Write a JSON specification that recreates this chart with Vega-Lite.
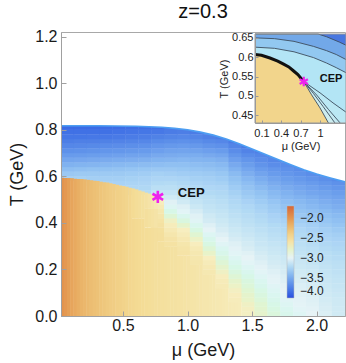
{
"$schema": "https://vega.github.io/schema/vega-lite/v6.json",
"width": 284, "height": 284,
"autosize": {"type": "none"},
"padding": {"left": 61, "top": 32, "right": 1, "bottom": 47},
"background": "white",
"config": {"font": "Liberation Sans", "view": {"stroke": "#a8a8a8", "strokeWidth": 1}},
"title": {"text": "z=0.3", "fontSize": 20, "fontWeight": "normal", "color": "#111", "offset": 7, "frame": "group", "anchor": "middle"},
"datasets": {
"cells": [
{"m":0.07,"t":0.59,"v":-3.27},{"m":0.07,"t":0.61,"v":-3.32},{"m":0.07,"t":0.63,"v":-3.38},{"m":0.07,"t":0.65,"v":-3.45},{"m":0.07,"t":0.67,"v":-3.52},{"m":0.07,"t":0.69,"v":-3.59},{"m":0.07,"t":0.71,"v":-3.65},{"m":0.07,"t":0.73,"v":-3.71},{"m":0.07,"t":0.75,"v":-3.76},{"m":0.07,"t":0.77,"v":-3.8},{"m":0.07,"t":0.79,"v":-3.83},{"m":0.07,"t":0.81,"v":-3.86},
{"m":0.17,"t":0.59,"v":-3.27},{"m":0.17,"t":0.61,"v":-3.31},{"m":0.17,"t":0.63,"v":-3.37},{"m":0.17,"t":0.65,"v":-3.44},{"m":0.17,"t":0.67,"v":-3.51},{"m":0.17,"t":0.69,"v":-3.58},{"m":0.17,"t":0.71,"v":-3.64},{"m":0.17,"t":0.73,"v":-3.7},{"m":0.17,"t":0.75,"v":-3.75},{"m":0.17,"t":0.77,"v":-3.8},{"m":0.17,"t":0.79,"v":-3.83},{"m":0.17,"t":0.81,"v":-3.86},
{"m":0.27,"t":0.57,"v":-3.26},{"m":0.27,"t":0.59,"v":-3.28},{"m":0.27,"t":0.61,"v":-3.31},{"m":0.27,"t":0.63,"v":-3.36},{"m":0.27,"t":0.65,"v":-3.43},{"m":0.27,"t":0.67,"v":-3.5},{"m":0.27,"t":0.69,"v":-3.57},{"m":0.27,"t":0.71,"v":-3.63},{"m":0.27,"t":0.73,"v":-3.69},{"m":0.27,"t":0.75,"v":-3.75},{"m":0.27,"t":0.77,"v":-3.79},{"m":0.27,"t":0.79,"v":-3.83},{"m":0.27,"t":0.81,"v":-3.86},
{"m":0.37,"t":0.57,"v":-3.26},{"m":0.37,"t":0.59,"v":-3.28},{"m":0.37,"t":0.61,"v":-3.31},{"m":0.37,"t":0.63,"v":-3.36},{"m":0.37,"t":0.65,"v":-3.42},{"m":0.37,"t":0.67,"v":-3.49},{"m":0.37,"t":0.69,"v":-3.56},{"m":0.37,"t":0.71,"v":-3.62},{"m":0.37,"t":0.73,"v":-3.68},{"m":0.37,"t":0.75,"v":-3.74},{"m":0.37,"t":0.77,"v":-3.79},{"m":0.37,"t":0.79,"v":-3.83},{"m":0.37,"t":0.81,"v":-3.85},
{"m":0.47,"t":0.55,"v":-3.24},{"m":0.47,"t":0.57,"v":-3.26},{"m":0.47,"t":0.59,"v":-3.28},{"m":0.47,"t":0.61,"v":-3.31},{"m":0.47,"t":0.63,"v":-3.35},{"m":0.47,"t":0.65,"v":-3.41},{"m":0.47,"t":0.67,"v":-3.48},{"m":0.47,"t":0.69,"v":-3.55},{"m":0.47,"t":0.71,"v":-3.61},{"m":0.47,"t":0.73,"v":-3.67},{"m":0.47,"t":0.75,"v":-3.73},{"m":0.47,"t":0.77,"v":-3.78},{"m":0.47,"t":0.79,"v":-3.82},{"m":0.47,"t":0.81,"v":-3.85},
{"m":0.57,"t":0.53,"v":-3.22},{"m":0.57,"t":0.55,"v":-3.23},{"m":0.57,"t":0.57,"v":-3.25},{"m":0.57,"t":0.59,"v":-3.27},{"m":0.57,"t":0.61,"v":-3.3},{"m":0.57,"t":0.63,"v":-3.34},{"m":0.57,"t":0.65,"v":-3.4},{"m":0.57,"t":0.67,"v":-3.47},{"m":0.57,"t":0.69,"v":-3.54},{"m":0.57,"t":0.71,"v":-3.6},{"m":0.57,"t":0.73,"v":-3.66},{"m":0.57,"t":0.75,"v":-3.72},{"m":0.57,"t":0.77,"v":-3.77},{"m":0.57,"t":0.79,"v":-3.81},{"m":0.57,"t":0.81,"v":-3.84},
{"m":0.67,"t":0.53,"v":-3.2},{"m":0.67,"t":0.55,"v":-3.22},{"m":0.67,"t":0.57,"v":-3.24},{"m":0.67,"t":0.59,"v":-3.26},{"m":0.67,"t":0.61,"v":-3.29},{"m":0.67,"t":0.63,"v":-3.33},{"m":0.67,"t":0.65,"v":-3.39},{"m":0.67,"t":0.67,"v":-3.46},{"m":0.67,"t":0.69,"v":-3.53},{"m":0.67,"t":0.71,"v":-3.59},{"m":0.67,"t":0.73,"v":-3.65},{"m":0.67,"t":0.75,"v":-3.71},{"m":0.67,"t":0.77,"v":-3.76},{"m":0.67,"t":0.79,"v":-3.8},{"m":0.67,"t":0.81,"v":-3.84},
{"m":0.77,"t":0.33,"v":-2.54},{"m":0.77,"t":0.35,"v":-2.54},{"m":0.77,"t":0.37,"v":-2.55},{"m":0.77,"t":0.39,"v":-2.57},{"m":0.77,"t":0.41,"v":-2.59},{"m":0.77,"t":0.43,"v":-2.62},{"m":0.77,"t":0.45,"v":-2.65},{"m":0.77,"t":0.47,"v":-2.69},{"m":0.77,"t":0.49,"v":-2.74},{"m":0.77,"t":0.51,"v":-2.88},{"m":0.77,"t":0.53,"v":-3.12},{"m":0.77,"t":0.55,"v":-3.17},{"m":0.77,"t":0.57,"v":-3.21},{"m":0.77,"t":0.59,"v":-3.24},{"m":0.77,"t":0.61,"v":-3.27},{"m":0.77,"t":0.63,"v":-3.32},{"m":0.77,"t":0.65,"v":-3.38},{"m":0.77,"t":0.67,"v":-3.44},{"m":0.77,"t":0.69,"v":-3.5},{"m":0.77,"t":0.71,"v":-3.56},{"m":0.77,"t":0.73,"v":-3.62},{"m":0.77,"t":0.75,"v":-3.68},{"m":0.77,"t":0.77,"v":-3.74},{"m":0.77,"t":0.79,"v":-3.79},{"m":0.77,"t":0.81,"v":-3.83},
{"m":0.87,"t":0.31,"v":-2.58},{"m":0.87,"t":0.33,"v":-2.6},{"m":0.87,"t":0.35,"v":-2.64},{"m":0.87,"t":0.37,"v":-2.68},{"m":0.87,"t":0.39,"v":-2.72},{"m":0.87,"t":0.41,"v":-2.77},{"m":0.87,"t":0.43,"v":-2.83},{"m":0.87,"t":0.45,"v":-2.89},{"m":0.87,"t":0.47,"v":-2.95},{"m":0.87,"t":0.49,"v":-3.02},{"m":0.87,"t":0.51,"v":-3.08},{"m":0.87,"t":0.53,"v":-3.13},{"m":0.87,"t":0.55,"v":-3.17},{"m":0.87,"t":0.57,"v":-3.2},{"m":0.87,"t":0.59,"v":-3.24},{"m":0.87,"t":0.61,"v":-3.28},{"m":0.87,"t":0.63,"v":-3.32},{"m":0.87,"t":0.65,"v":-3.37},{"m":0.87,"t":0.67,"v":-3.43},{"m":0.87,"t":0.69,"v":-3.49},{"m":0.87,"t":0.71,"v":-3.54},{"m":0.87,"t":0.73,"v":-3.6},{"m":0.87,"t":0.75,"v":-3.66},{"m":0.87,"t":0.77,"v":-3.72},{"m":0.87,"t":0.79,"v":-3.77},{"m":0.87,"t":0.81,"v":-3.81},
{"m":0.97,"t":0.27,"v":-2.6},{"m":0.97,"t":0.29,"v":-2.61},{"m":0.97,"t":0.31,"v":-2.63},{"m":0.97,"t":0.33,"v":-2.67},{"m":0.97,"t":0.35,"v":-2.71},{"m":0.97,"t":0.37,"v":-2.75},{"m":0.97,"t":0.39,"v":-2.8},{"m":0.97,"t":0.41,"v":-2.86},{"m":0.97,"t":0.43,"v":-2.92},{"m":0.97,"t":0.45,"v":-2.98},{"m":0.97,"t":0.47,"v":-3.03},{"m":0.97,"t":0.49,"v":-3.08},{"m":0.97,"t":0.51,"v":-3.12},{"m":0.97,"t":0.53,"v":-3.16},{"m":0.97,"t":0.55,"v":-3.19},{"m":0.97,"t":0.57,"v":-3.22},{"m":0.97,"t":0.59,"v":-3.25},{"m":0.97,"t":0.61,"v":-3.29},{"m":0.97,"t":0.63,"v":-3.33},{"m":0.97,"t":0.65,"v":-3.37},{"m":0.97,"t":0.67,"v":-3.42},{"m":0.97,"t":0.69,"v":-3.48},{"m":0.97,"t":0.71,"v":-3.53},{"m":0.97,"t":0.73,"v":-3.59},{"m":0.97,"t":0.75,"v":-3.65},{"m":0.97,"t":0.77,"v":-3.71},{"m":0.97,"t":0.79,"v":-3.76},{"m":0.97,"t":0.81,"v":-3.81},
{"m":1.07,"t":0.23,"v":-2.63},{"m":1.07,"t":0.25,"v":-2.645},{"m":1.07,"t":0.27,"v":-2.66},{"m":1.07,"t":0.29,"v":-2.69},{"m":1.07,"t":0.31,"v":-2.74},{"m":1.07,"t":0.33,"v":-2.78},{"m":1.07,"t":0.35,"v":-2.82},{"m":1.07,"t":0.37,"v":-2.87},{"m":1.07,"t":0.39,"v":-2.92},{"m":1.07,"t":0.41,"v":-2.97},{"m":1.07,"t":0.43,"v":-3.02},{"m":1.07,"t":0.45,"v":-3.06},{"m":1.07,"t":0.47,"v":-3.1},{"m":1.07,"t":0.49,"v":-3.13},{"m":1.07,"t":0.51,"v":-3.16},{"m":1.07,"t":0.53,"v":-3.18},{"m":1.07,"t":0.55,"v":-3.21},{"m":1.07,"t":0.57,"v":-3.24},{"m":1.07,"t":0.59,"v":-3.27},{"m":1.07,"t":0.61,"v":-3.3},{"m":1.07,"t":0.63,"v":-3.34},{"m":1.07,"t":0.65,"v":-3.38},{"m":1.07,"t":0.67,"v":-3.43},{"m":1.07,"t":0.69,"v":-3.48},{"m":1.07,"t":0.71,"v":-3.54},{"m":1.07,"t":0.73,"v":-3.6},{"m":1.07,"t":0.75,"v":-3.66},{"m":1.07,"t":0.77,"v":-3.72},{"m":1.07,"t":0.79,"v":-3.77},
{"m":1.17,"t":0.19,"v":-2.66},{"m":1.17,"t":0.21,"v":-2.68},{"m":1.17,"t":0.23,"v":-2.71},{"m":1.17,"t":0.25,"v":-2.75},{"m":1.17,"t":0.27,"v":-2.79},{"m":1.17,"t":0.29,"v":-2.83},{"m":1.17,"t":0.31,"v":-2.87},{"m":1.17,"t":0.33,"v":-2.91},{"m":1.17,"t":0.35,"v":-2.95},{"m":1.17,"t":0.37,"v":-3.0},{"m":1.17,"t":0.39,"v":-3.03},{"m":1.17,"t":0.41,"v":-3.07},{"m":1.17,"t":0.43,"v":-3.09},{"m":1.17,"t":0.45,"v":-3.12},{"m":1.17,"t":0.47,"v":-3.14},{"m":1.17,"t":0.49,"v":-3.16},{"m":1.17,"t":0.51,"v":-3.18},{"m":1.17,"t":0.53,"v":-3.21},{"m":1.17,"t":0.55,"v":-3.23},{"m":1.17,"t":0.57,"v":-3.26},{"m":1.17,"t":0.59,"v":-3.28},{"m":1.17,"t":0.61,"v":-3.31},{"m":1.17,"t":0.63,"v":-3.35},{"m":1.17,"t":0.65,"v":-3.39},{"m":1.17,"t":0.67,"v":-3.44},{"m":1.17,"t":0.69,"v":-3.5},{"m":1.17,"t":0.71,"v":-3.56},{"m":1.17,"t":0.73,"v":-3.63},{"m":1.17,"t":0.75,"v":-3.69},{"m":1.17,"t":0.77,"v":-3.75},{"m":1.17,"t":0.79,"v":-3.79},
{"m":1.27,"t":0.13,"v":-2.69},{"m":1.27,"t":0.15,"v":-2.71},{"m":1.27,"t":0.17,"v":-2.74},{"m":1.27,"t":0.19,"v":-2.77},{"m":1.27,"t":0.21,"v":-2.8},{"m":1.27,"t":0.23,"v":-2.83},{"m":1.27,"t":0.25,"v":-2.86},{"m":1.27,"t":0.27,"v":-2.9},{"m":1.27,"t":0.29,"v":-2.93},{"m":1.27,"t":0.31,"v":-2.97},{"m":1.27,"t":0.33,"v":-3.0},{"m":1.27,"t":0.35,"v":-3.03},{"m":1.27,"t":0.37,"v":-3.06},{"m":1.27,"t":0.39,"v":-3.08},{"m":1.27,"t":0.41,"v":-3.1},{"m":1.27,"t":0.43,"v":-3.12},{"m":1.27,"t":0.45,"v":-3.14},{"m":1.27,"t":0.47,"v":-3.16},{"m":1.27,"t":0.49,"v":-3.18},{"m":1.27,"t":0.51,"v":-3.2},{"m":1.27,"t":0.53,"v":-3.22},{"m":1.27,"t":0.55,"v":-3.24},{"m":1.27,"t":0.57,"v":-3.27},{"m":1.27,"t":0.59,"v":-3.3},{"m":1.27,"t":0.61,"v":-3.33},{"m":1.27,"t":0.63,"v":-3.37},{"m":1.27,"t":0.65,"v":-3.41},{"m":1.27,"t":0.67,"v":-3.46},{"m":1.27,"t":0.69,"v":-3.52},{"m":1.27,"t":0.71,"v":-3.58},{"m":1.27,"t":0.73,"v":-3.65},{"m":1.27,"t":0.75,"v":-3.71},{"m":1.27,"t":0.77,"v":-3.77},
{"m":1.37,"t":0.07,"v":-2.72},{"m":1.37,"t":0.09,"v":-2.74},{"m":1.37,"t":0.11,"v":-2.76},{"m":1.37,"t":0.13,"v":-2.78},{"m":1.37,"t":0.15,"v":-2.8},{"m":1.37,"t":0.17,"v":-2.83},{"m":1.37,"t":0.19,"v":-2.86},{"m":1.37,"t":0.21,"v":-2.89},{"m":1.37,"t":0.23,"v":-2.92},{"m":1.37,"t":0.25,"v":-2.95},{"m":1.37,"t":0.27,"v":-2.98},{"m":1.37,"t":0.29,"v":-3.01},{"m":1.37,"t":0.31,"v":-3.03},{"m":1.37,"t":0.33,"v":-3.06},{"m":1.37,"t":0.35,"v":-3.08},{"m":1.37,"t":0.37,"v":-3.1},{"m":1.37,"t":0.39,"v":-3.12},{"m":1.37,"t":0.41,"v":-3.14},{"m":1.37,"t":0.43,"v":-3.16},{"m":1.37,"t":0.45,"v":-3.18},{"m":1.37,"t":0.47,"v":-3.2},{"m":1.37,"t":0.49,"v":-3.22},{"m":1.37,"t":0.51,"v":-3.24},{"m":1.37,"t":0.53,"v":-3.27},{"m":1.37,"t":0.55,"v":-3.3},{"m":1.37,"t":0.57,"v":-3.33},{"m":1.37,"t":0.59,"v":-3.36},{"m":1.37,"t":0.61,"v":-3.4},{"m":1.37,"t":0.63,"v":-3.45},{"m":1.37,"t":0.65,"v":-3.5},{"m":1.37,"t":0.67,"v":-3.56},{"m":1.37,"t":0.69,"v":-3.62},{"m":1.37,"t":0.71,"v":-3.67},{"m":1.37,"t":0.73,"v":-3.72},{"m":1.37,"t":0.75,"v":-3.77},
{"m":1.47,"t":0.01,"v":-2.76},{"m":1.47,"t":0.03,"v":-2.76},{"m":1.47,"t":0.05,"v":-2.77},{"m":1.47,"t":0.07,"v":-2.79},{"m":1.47,"t":0.09,"v":-2.8},{"m":1.47,"t":0.11,"v":-2.82},{"m":1.47,"t":0.13,"v":-2.84},{"m":1.47,"t":0.15,"v":-2.86},{"m":1.47,"t":0.17,"v":-2.89},{"m":1.47,"t":0.19,"v":-2.92},{"m":1.47,"t":0.21,"v":-2.95},{"m":1.47,"t":0.23,"v":-2.98},{"m":1.47,"t":0.25,"v":-3.0},{"m":1.47,"t":0.27,"v":-3.02},{"m":1.47,"t":0.29,"v":-3.05},{"m":1.47,"t":0.31,"v":-3.07},{"m":1.47,"t":0.33,"v":-3.09},{"m":1.47,"t":0.35,"v":-3.11},{"m":1.47,"t":0.37,"v":-3.13},{"m":1.47,"t":0.39,"v":-3.15},{"m":1.47,"t":0.41,"v":-3.17},{"m":1.47,"t":0.43,"v":-3.19},{"m":1.47,"t":0.45,"v":-3.21},{"m":1.47,"t":0.47,"v":-3.23},{"m":1.47,"t":0.49,"v":-3.26},{"m":1.47,"t":0.51,"v":-3.29},{"m":1.47,"t":0.53,"v":-3.32},{"m":1.47,"t":0.55,"v":-3.35},{"m":1.47,"t":0.57,"v":-3.38},{"m":1.47,"t":0.59,"v":-3.42},{"m":1.47,"t":0.61,"v":-3.47},{"m":1.47,"t":0.63,"v":-3.52},{"m":1.47,"t":0.65,"v":-3.57},{"m":1.47,"t":0.67,"v":-3.62},{"m":1.47,"t":0.69,"v":-3.68},{"m":1.47,"t":0.71,"v":-3.73},{"m":1.47,"t":0.73,"v":-3.78},
{"m":1.57,"t":0.01,"v":-2.8},{"m":1.57,"t":0.03,"v":-2.81},{"m":1.57,"t":0.05,"v":-2.82},{"m":1.57,"t":0.07,"v":-2.84},{"m":1.57,"t":0.09,"v":-2.86},{"m":1.57,"t":0.11,"v":-2.88},{"m":1.57,"t":0.13,"v":-2.91},{"m":1.57,"t":0.15,"v":-2.93},{"m":1.57,"t":0.17,"v":-2.96},{"m":1.57,"t":0.19,"v":-2.98},{"m":1.57,"t":0.21,"v":-3.01},{"m":1.57,"t":0.23,"v":-3.03},{"m":1.57,"t":0.25,"v":-3.05},{"m":1.57,"t":0.27,"v":-3.07},{"m":1.57,"t":0.29,"v":-3.09},{"m":1.57,"t":0.31,"v":-3.11},{"m":1.57,"t":0.33,"v":-3.12},{"m":1.57,"t":0.35,"v":-3.14},{"m":1.57,"t":0.37,"v":-3.16},{"m":1.57,"t":0.39,"v":-3.18},{"m":1.57,"t":0.41,"v":-3.2},{"m":1.57,"t":0.43,"v":-3.22},{"m":1.57,"t":0.45,"v":-3.25},{"m":1.57,"t":0.47,"v":-3.27},{"m":1.57,"t":0.49,"v":-3.3},{"m":1.57,"t":0.51,"v":-3.33},{"m":1.57,"t":0.53,"v":-3.36},{"m":1.57,"t":0.55,"v":-3.4},{"m":1.57,"t":0.57,"v":-3.44},{"m":1.57,"t":0.59,"v":-3.48},{"m":1.57,"t":0.61,"v":-3.53},{"m":1.57,"t":0.63,"v":-3.58},{"m":1.57,"t":0.65,"v":-3.63},{"m":1.57,"t":0.67,"v":-3.67},{"m":1.57,"t":0.69,"v":-3.71},{"m":1.57,"t":0.71,"v":-3.75},
{"m":1.67,"t":0.01,"v":-2.85},{"m":1.67,"t":0.03,"v":-2.87},{"m":1.67,"t":0.05,"v":-2.89},{"m":1.67,"t":0.07,"v":-2.91},{"m":1.67,"t":0.09,"v":-2.93},{"m":1.67,"t":0.11,"v":-2.95},{"m":1.67,"t":0.13,"v":-2.97},{"m":1.67,"t":0.15,"v":-2.99},{"m":1.67,"t":0.17,"v":-3.01},{"m":1.67,"t":0.19,"v":-3.03},{"m":1.67,"t":0.21,"v":-3.05},{"m":1.67,"t":0.23,"v":-3.07},{"m":1.67,"t":0.25,"v":-3.08},{"m":1.67,"t":0.27,"v":-3.1},{"m":1.67,"t":0.29,"v":-3.11},{"m":1.67,"t":0.31,"v":-3.13},{"m":1.67,"t":0.33,"v":-3.15},{"m":1.67,"t":0.35,"v":-3.17},{"m":1.67,"t":0.37,"v":-3.19},{"m":1.67,"t":0.39,"v":-3.21},{"m":1.67,"t":0.41,"v":-3.24},{"m":1.67,"t":0.43,"v":-3.26},{"m":1.67,"t":0.45,"v":-3.29},{"m":1.67,"t":0.47,"v":-3.31},{"m":1.67,"t":0.49,"v":-3.34},{"m":1.67,"t":0.51,"v":-3.38},{"m":1.67,"t":0.53,"v":-3.41},{"m":1.67,"t":0.55,"v":-3.45},{"m":1.67,"t":0.57,"v":-3.49},{"m":1.67,"t":0.59,"v":-3.53},{"m":1.67,"t":0.61,"v":-3.58},{"m":1.67,"t":0.63,"v":-3.62},{"m":1.67,"t":0.65,"v":-3.67},{"m":1.67,"t":0.67,"v":-3.71},{"m":1.67,"t":0.69,"v":-3.75},
{"m":1.77,"t":0.01,"v":-2.91},{"m":1.77,"t":0.03,"v":-2.93},{"m":1.77,"t":0.05,"v":-2.95},{"m":1.77,"t":0.07,"v":-2.97},{"m":1.77,"t":0.09,"v":-2.98},{"m":1.77,"t":0.11,"v":-3.0},{"m":1.77,"t":0.13,"v":-3.01},{"m":1.77,"t":0.15,"v":-3.03},{"m":1.77,"t":0.17,"v":-3.04},{"m":1.77,"t":0.19,"v":-3.06},{"m":1.77,"t":0.21,"v":-3.07},{"m":1.77,"t":0.23,"v":-3.09},{"m":1.77,"t":0.25,"v":-3.1},{"m":1.77,"t":0.27,"v":-3.12},{"m":1.77,"t":0.29,"v":-3.13},{"m":1.77,"t":0.31,"v":-3.15},{"m":1.77,"t":0.33,"v":-3.17},{"m":1.77,"t":0.35,"v":-3.19},{"m":1.77,"t":0.37,"v":-3.21},{"m":1.77,"t":0.39,"v":-3.23},{"m":1.77,"t":0.41,"v":-3.26},{"m":1.77,"t":0.43,"v":-3.29},{"m":1.77,"t":0.45,"v":-3.32},{"m":1.77,"t":0.47,"v":-3.35},{"m":1.77,"t":0.49,"v":-3.38},{"m":1.77,"t":0.51,"v":-3.42},{"m":1.77,"t":0.53,"v":-3.45},{"m":1.77,"t":0.55,"v":-3.49},{"m":1.77,"t":0.57,"v":-3.53},{"m":1.77,"t":0.59,"v":-3.57},{"m":1.77,"t":0.61,"v":-3.61},{"m":1.77,"t":0.63,"v":-3.65},{"m":1.77,"t":0.65,"v":-3.68},{"m":1.77,"t":0.67,"v":-3.71},
{"m":1.87,"t":0.01,"v":-2.96},{"m":1.87,"t":0.03,"v":-2.98},{"m":1.87,"t":0.05,"v":-2.99},{"m":1.87,"t":0.07,"v":-3.01},{"m":1.87,"t":0.09,"v":-3.02},{"m":1.87,"t":0.11,"v":-3.03},{"m":1.87,"t":0.13,"v":-3.04},{"m":1.87,"t":0.15,"v":-3.06},{"m":1.87,"t":0.17,"v":-3.07},{"m":1.87,"t":0.19,"v":-3.08},{"m":1.87,"t":0.21,"v":-3.1},{"m":1.87,"t":0.23,"v":-3.11},{"m":1.87,"t":0.25,"v":-3.12},{"m":1.87,"t":0.27,"v":-3.14},{"m":1.87,"t":0.29,"v":-3.15},{"m":1.87,"t":0.31,"v":-3.17},{"m":1.87,"t":0.33,"v":-3.19},{"m":1.87,"t":0.35,"v":-3.21},{"m":1.87,"t":0.37,"v":-3.23},{"m":1.87,"t":0.39,"v":-3.26},{"m":1.87,"t":0.41,"v":-3.29},{"m":1.87,"t":0.43,"v":-3.32},{"m":1.87,"t":0.45,"v":-3.35},{"m":1.87,"t":0.47,"v":-3.38},{"m":1.87,"t":0.49,"v":-3.41},{"m":1.87,"t":0.51,"v":-3.45},{"m":1.87,"t":0.53,"v":-3.49},{"m":1.87,"t":0.55,"v":-3.52},{"m":1.87,"t":0.57,"v":-3.56},{"m":1.87,"t":0.59,"v":-3.6},{"m":1.87,"t":0.61,"v":-3.64},{"m":1.87,"t":0.63,"v":-3.68},{"m":1.87,"t":0.65,"v":-3.72},
{"m":1.97,"t":0.01,"v":-3.0},{"m":1.97,"t":0.03,"v":-3.01},{"m":1.97,"t":0.05,"v":-3.02},{"m":1.97,"t":0.07,"v":-3.03},{"m":1.97,"t":0.09,"v":-3.04},{"m":1.97,"t":0.11,"v":-3.05},{"m":1.97,"t":0.13,"v":-3.06},{"m":1.97,"t":0.15,"v":-3.08},{"m":1.97,"t":0.17,"v":-3.09},{"m":1.97,"t":0.19,"v":-3.1},{"m":1.97,"t":0.21,"v":-3.11},{"m":1.97,"t":0.23,"v":-3.13},{"m":1.97,"t":0.25,"v":-3.14},{"m":1.97,"t":0.27,"v":-3.16},{"m":1.97,"t":0.29,"v":-3.17},{"m":1.97,"t":0.31,"v":-3.19},{"m":1.97,"t":0.33,"v":-3.21},{"m":1.97,"t":0.35,"v":-3.23},{"m":1.97,"t":0.37,"v":-3.26},{"m":1.97,"t":0.39,"v":-3.28},{"m":1.97,"t":0.41,"v":-3.31},{"m":1.97,"t":0.43,"v":-3.34},{"m":1.97,"t":0.45,"v":-3.37},{"m":1.97,"t":0.47,"v":-3.41},{"m":1.97,"t":0.49,"v":-3.44},{"m":1.97,"t":0.51,"v":-3.48},{"m":1.97,"t":0.53,"v":-3.52},{"m":1.97,"t":0.55,"v":-3.55},{"m":1.97,"t":0.57,"v":-3.59},{"m":1.97,"t":0.59,"v":-3.63},{"m":1.97,"t":0.61,"v":-3.67},{"m":1.97,"t":0.63,"v":-3.7},
{"m":2.07,"t":0.01,"v":-3.04},{"m":2.07,"t":0.03,"v":-3.05},{"m":2.07,"t":0.05,"v":-3.06},{"m":2.07,"t":0.07,"v":-3.07},{"m":2.07,"t":0.09,"v":-3.08},{"m":2.07,"t":0.11,"v":-3.09},{"m":2.07,"t":0.13,"v":-3.1},{"m":2.07,"t":0.15,"v":-3.11},{"m":2.07,"t":0.17,"v":-3.12},{"m":2.07,"t":0.19,"v":-3.13},{"m":2.07,"t":0.21,"v":-3.14},{"m":2.07,"t":0.23,"v":-3.15},{"m":2.07,"t":0.25,"v":-3.17},{"m":2.07,"t":0.27,"v":-3.18},{"m":2.07,"t":0.29,"v":-3.2},{"m":2.07,"t":0.31,"v":-3.22},{"m":2.07,"t":0.33,"v":-3.24},{"m":2.07,"t":0.35,"v":-3.26},{"m":2.07,"t":0.37,"v":-3.28},{"m":2.07,"t":0.39,"v":-3.31},{"m":2.07,"t":0.41,"v":-3.34},{"m":2.07,"t":0.43,"v":-3.37},{"m":2.07,"t":0.45,"v":-3.4},{"m":2.07,"t":0.47,"v":-3.44},{"m":2.07,"t":0.49,"v":-3.47},{"m":2.07,"t":0.51,"v":-3.51},{"m":2.07,"t":0.53,"v":-3.54},{"m":2.07,"t":0.55,"v":-3.58},{"m":2.07,"t":0.57,"v":-3.62},{"m":2.07,"t":0.59,"v":-3.66},{"m":2.07,"t":0.61,"v":-3.7},
{"m":2.17,"t":0.01,"v":-3.08},{"m":2.17,"t":0.03,"v":-3.08},{"m":2.17,"t":0.05,"v":-3.09},{"m":2.17,"t":0.07,"v":-3.09},{"m":2.17,"t":0.09,"v":-3.1},{"m":2.17,"t":0.11,"v":-3.11},{"m":2.17,"t":0.13,"v":-3.12},{"m":2.17,"t":0.15,"v":-3.13},{"m":2.17,"t":0.17,"v":-3.14},{"m":2.17,"t":0.19,"v":-3.15},{"m":2.17,"t":0.21,"v":-3.16},{"m":2.17,"t":0.23,"v":-3.17},{"m":2.17,"t":0.25,"v":-3.19},{"m":2.17,"t":0.27,"v":-3.2},{"m":2.17,"t":0.29,"v":-3.22},{"m":2.17,"t":0.31,"v":-3.24},{"m":2.17,"t":0.33,"v":-3.26},{"m":2.17,"t":0.35,"v":-3.28},{"m":2.17,"t":0.37,"v":-3.31},{"m":2.17,"t":0.39,"v":-3.34},{"m":2.17,"t":0.41,"v":-3.37},{"m":2.17,"t":0.43,"v":-3.4},{"m":2.17,"t":0.45,"v":-3.43},{"m":2.17,"t":0.47,"v":-3.47},{"m":2.17,"t":0.49,"v":-3.5},{"m":2.17,"t":0.51,"v":-3.54},{"m":2.17,"t":0.53,"v":-3.57},{"m":2.17,"t":0.55,"v":-3.61},{"m":2.17,"t":0.57,"v":-3.65},{"m":2.17,"t":0.59,"v":-3.69}
],
"bars": [
{"m":0.03,"b":0,"t":0.594,"v":-1.98},{"m":0.055,"b":0,"t":0.593,"v":-2.02},{"m":0.08,"b":0,"t":0.593,"v":-2.06},{"m":0.105,"b":0,"t":0.592,"v":-2.1},{"m":0.13,"b":0,"t":0.59,"v":-2.13},{"m":0.155,"b":0,"t":0.589,"v":-2.16},{"m":0.18,"b":0,"t":0.588,"v":-2.19},{"m":0.205,"b":0,"t":0.587,"v":-2.21},{"m":0.23,"b":0,"t":0.585,"v":-2.23},{"m":0.255,"b":0,"t":0.583,"v":-2.25},{"m":0.28,"b":0,"t":0.581,"v":-2.27},{"m":0.305,"b":0,"t":0.58,"v":-2.29},{"m":0.33,"b":0,"t":0.577,"v":-2.31},{"m":0.355,"b":0,"t":0.575,"v":-2.33},{"m":0.38,"b":0,"t":0.573,"v":-2.35},{"m":0.405,"b":0,"t":0.57,"v":-2.37},{"m":0.43,"b":0,"t":0.567,"v":-2.38},{"m":0.455,"b":0,"t":0.564,"v":-2.4},{"m":0.48,"b":0,"t":0.561,"v":-2.41},{"m":0.505,"b":0,"t":0.558,"v":-2.43},{"m":0.53,"b":0,"t":0.555,"v":-2.44},{"m":0.555,"b":0,"t":0.551,"v":-2.46},
{"m":0.58,"b":0,"t":0.42,"v":-2.47},{"m":0.58,"b":0.42,"t":0.548,"v":-2.49},
{"m":0.605,"b":0,"t":0.42,"v":-2.48},{"m":0.605,"b":0.42,"t":0.544,"v":-2.51},
{"m":0.63,"b":0,"t":0.42,"v":-2.49},{"m":0.63,"b":0.42,"t":0.539,"v":-2.53},
{"m":0.655,"b":0,"t":0.42,"v":-2.5},{"m":0.655,"b":0.42,"t":0.535,"v":-2.55},
{"m":0.68,"b":0,"t":0.38,"v":-2.51},{"m":0.68,"b":0.38,"t":0.46,"v":-2.54},{"m":0.68,"b":0.46,"t":0.53,"v":-2.57},
{"m":0.705,"b":0,"t":0.38,"v":-2.52},{"m":0.705,"b":0.38,"t":0.46,"v":-2.56},{"m":0.705,"b":0.46,"t":0.526,"v":-2.6},
{"m":0.73,"b":0,"t":0.38,"v":-2.53},{"m":0.73,"b":0.38,"t":0.46,"v":-2.58},{"m":0.73,"b":0.46,"t":0.521,"v":-2.63},
{"m":0.755,"b":0,"t":0.38,"v":-2.54},{"m":0.755,"b":0.38,"t":0.46,"v":-2.6},{"m":0.755,"b":0.46,"t":0.515,"v":-2.67},
{"m":0.78,"b":0,"t":0.32,"v":-2.545},{"m":0.805,"b":0,"t":0.32,"v":-2.55},{"m":0.83,"b":0,"t":0.3,"v":-2.555},{"m":0.855,"b":0,"t":0.3,"v":-2.56},{"m":0.88,"b":0,"t":0.3,"v":-2.565},{"m":0.905,"b":0,"t":0.3,"v":-2.57},{"m":0.93,"b":0,"t":0.26,"v":-2.58},{"m":0.955,"b":0,"t":0.26,"v":-2.585},{"m":0.98,"b":0,"t":0.26,"v":-2.59},{"m":1.005,"b":0,"t":0.26,"v":-2.6},{"m":1.03,"b":0,"t":0.22,"v":-2.605},{"m":1.055,"b":0,"t":0.22,"v":-2.61},{"m":1.08,"b":0,"t":0.22,"v":-2.62},{"m":1.105,"b":0,"t":0.22,"v":-2.625},{"m":1.13,"b":0,"t":0.18,"v":-2.635},{"m":1.155,"b":0,"t":0.18,"v":-2.64},{"m":1.18,"b":0,"t":0.18,"v":-2.65},{"m":1.205,"b":0,"t":0.18,"v":-2.655},{"m":1.23,"b":0,"t":0.12,"v":-2.665},{"m":1.255,"b":0,"t":0.12,"v":-2.67},{"m":1.28,"b":0,"t":0.12,"v":-2.68},{"m":1.305,"b":0,"t":0.12,"v":-2.685},{"m":1.33,"b":0,"t":0.06,"v":-2.695},{"m":1.355,"b":0,"t":0.06,"v":-2.7},{"m":1.38,"b":0,"t":0.06,"v":-2.71},{"m":1.405,"b":0,"t":0.06,"v":-2.715}
],
"top": [{"m":0.02,"t":0.817},{"m":0.3,"t":0.817},{"m":0.6,"t":0.815},{"m":0.8,"t":0.811},{"m":0.9,"t":0.806},{"m":1.0,"t":0.8},{"m":1.1,"t":0.79},{"m":1.2,"t":0.777},{"m":1.3,"t":0.76},{"m":1.4,"t":0.74},{"m":1.5,"t":0.717},{"m":1.6,"t":0.695},{"m":1.7,"t":0.672},{"m":1.8,"t":0.65},{"m":1.9,"t":0.628},{"m":2.0,"t":0.61},{"m":2.1,"t":0.594},{"m":2.22,"t":0.576}],
"cep": [{"m":0.77,"t":0.512,"label":"CEP"}],
"ins": [
{"c":"d","m":0,"t":0.66},{"c":"d","m":0.97,"t":0.66},{"c":"d","m":1.1,"t":0.653},{"c":"d","m":1.2,"t":0.646},{"c":"d","m":1.3,"t":0.639},{"c":"d","m":1.4,"t":0.631},
{"c":"a","m":0,"t":0.65},{"c":"a","m":0.3,"t":0.648},{"c":"a","m":0.6,"t":0.641},{"c":"a","m":0.9,"t":0.628},{"c":"a","m":1.1,"t":0.617},{"c":"a","m":1.25,"t":0.607},{"c":"a","m":1.4,"t":0.594},
{"c":"b","m":0,"t":0.626},{"c":"b","m":0.3,"t":0.623},{"c":"b","m":0.6,"t":0.614},{"c":"b","m":0.9,"t":0.599},{"c":"b","m":1.1,"t":0.585},{"c":"b","m":1.25,"t":0.573},{"c":"b","m":1.4,"t":0.56},
{"c":"o","m":0,"t":0.607},{"c":"o","m":0.1,"t":0.605},{"c":"o","m":0.23,"t":0.598},{"c":"o","m":0.35,"t":0.59},{"c":"o","m":0.44,"t":0.582},{"c":"o","m":0.52,"t":0.575},{"c":"o","m":0.59,"t":0.565},{"c":"o","m":0.66,"t":0.555},{"c":"o","m":0.75,"t":0.537},
{"c":"f3","m":0.75,"t":0.537},{"c":"f3","m":1.0,"t":0.508},{"c":"f3","m":1.2,"t":0.482},{"c":"f3","m":1.4,"t":0.458},
{"c":"f2","m":0.75,"t":0.537},{"c":"f2","m":0.95,"t":0.502},{"c":"f2","m":1.13,"t":0.465},{"c":"f2","m":1.31,"t":0.43},
{"c":"f1","m":0.75,"t":0.537},{"c":"f1","m":0.9,"t":0.506},{"c":"f1","m":1.05,"t":0.472},{"c":"f1","m":1.23,"t":0.43},
{"c":"y","m":0.75,"t":0.537},{"c":"y","m":0.87,"t":0.503},{"c":"y","m":1.0,"t":0.469},{"c":"y","m":1.13,"t":0.43}
],
"icep": [{"m":0.75,"t":0.537,"label":"CEP"}]
},
"layer": [
{
"layer": [
{
"data": {"name": "cells"},
"mark": {"type": "rect", "width": 13.4, "height": 5.0, "clip": true},
"encoding": {
"x": {"field": "m", "type": "quantitative", "scale": {"domain": [0.02, 2.22], "nice": false, "zero": false},
 "axis": {"values": [0.5, 1, 1.5, 2], "format": ".1f", "title": "μ (GeV)", "labelFontSize": 16, "titleFontSize": 18, "titleFontWeight": "normal", "labelColor": "#1a1a1a", "titleColor": "#1a1a1a", "domainColor": "#a0a0a0", "tickColor": "#a0a0a0", "tickSize": -5, "labelPadding": 6, "titlePadding": 8, "grid": false, "zindex": 1, "labelFlush": false}},
"y": {"field": "t", "type": "quantitative", "scale": {"domain": [0, 1.22], "nice": false, "zero": false},
 "axis": {"values": [0, 0.2, 0.4, 0.6, 0.8, 1.0, 1.2], "format": ".1f", "title": "T (GeV)", "labelFontSize": 16, "titleFontSize": 18, "titleFontWeight": "normal", "labelColor": "#1a1a1a", "titleColor": "#1a1a1a", "domainColor": "#a0a0a0", "tickColor": "#a0a0a0", "tickSize": -5, "labelPadding": 9, "titlePadding": 8, "grid": false, "zindex": 1, "labelFlush": false}},
"color": {"field": "v", "type": "quantitative",
 "scale": {"domain": [-4.0, -3.75, -3.5, -3.25, -3.0, -2.75, -2.5, -2.25, -2.0, -1.7], "range": ["#2a4ee0", "#4f80e6", "#78a9ee", "#abd4f5", "#e6f3f6", "#f7eec0", "#f4dc96", "#ecbd72", "#e3954f", "#d4663a"]},
 "legend": {"orient": "none", "legendX": 226, "legendY": 174, "direction": "vertical", "gradientLength": 92, "gradientThickness": 7, "values": [-4, -3.5, -3, -2.5, -2], "format": ".1f", "labelFontSize": 12, "labelColor": "#222", "labelOffset": 6, "title": null, "labelOverlap": false, "gradientStrokeColor": "#bbbbbb", "gradientStrokeWidth": 0.5}}
}
},
{
"data": {"name": "bars"},
"mark": {"type": "rect", "width": 3.7, "clip": true},
"encoding": {"x": {"field": "m", "type": "quantitative"}, "y": {"field": "t", "type": "quantitative"}, "y2": {"field": "b"}, "color": {"field": "v", "type": "quantitative"}}
},
{
"data": {"name": "top"},
"mark": {"type": "area", "color": "white", "clip": true},
"encoding": {"x": {"field": "m", "type": "quantitative"}, "y": {"field": "t", "type": "quantitative"}, "y2": {"datum": 1.215}}
},
{
"data": {"name": "top"},
"mark": {"type": "line", "color": "#4d9ef2", "strokeWidth": 1.6, "clip": true},
"encoding": {"x": {"field": "m", "type": "quantitative"}, "y": {"field": "t", "type": "quantitative"}}
},
{
"data": {"name": "cep"},
"mark": {"type": "point", "shape": "M0,-1L0,1M-0.87,-0.5L0.87,0.5M-0.87,0.5L0.87,-0.5", "filled": false, "stroke": "#ee22ee", "strokeWidth": 2.6, "size": 150, "opacity": 1},
"encoding": {"x": {"field": "m", "type": "quantitative"}, "y": {"field": "t", "type": "quantitative"}}
},
{
"data": {"name": "cep"},
"mark": {"type": "text", "align": "left", "baseline": "middle", "dx": 20, "dy": -4, "fontSize": 13, "fontWeight": "bold", "color": "#111"},
"encoding": {"x": {"field": "m", "type": "quantitative"}, "y": {"field": "t", "type": "quantitative"}, "text": {"field": "label"}}
}
]
},
{
"layer": [
{
"data": {"values": [{}]},
"mark": {"type": "rect"},
"encoding": {
"x": {"datum": 0, "type": "quantitative", "scale": {"domain": [0, 1.4], "range": [194, 285], "nice": false, "zero": false},
 "axis": {"orient": "bottom", "offset": -193, "values": [0.1, 0.4, 0.7, 1], "format": ".1~f", "title": "μ (GeV)", "labelFontSize": 11, "titleFontSize": 11, "titleFontWeight": "normal", "labelColor": "#222", "titleColor": "#222", "domainColor": "#999", "tickColor": "#999", "tickSize": -3, "labelPadding": 7, "titlePadding": 2, "grid": false, "zindex": 1, "labelFlush": false}},
"x2": {"datum": 1.4},
"y": {"datum": 0.43, "type": "quantitative", "scale": {"domain": [0.43, 0.66], "range": [91, 2], "nice": false, "zero": false},
 "axis": {"orient": "left", "offset": -194, "values": [0.45, 0.5, 0.55, 0.6, 0.65], "format": ".2~f", "title": "T (GeV)", "labelFontSize": 11, "titleFontSize": 11, "titleFontWeight": "normal", "labelColor": "#222", "titleColor": "#222", "domainColor": "#999", "tickColor": "#999", "tickSize": -3, "labelPadding": 5, "titlePadding": 2, "grid": false, "zindex": 1, "labelFlush": false}},
"y2": {"datum": 0.66},
"color": {"datum": "bg", "type": "nominal", "scale": {"domain": ["bg", "d", "a", "b", "f3", "f2", "f1", "y"], "range": ["#4877e0", "#72a8e8", "#92c8f0", "#b3e5f5", "#bbe8f4", "#c4eaf2", "#cdedef", "#f2d58c"]}, "legend": null}
}
},
{"data": {"name": "ins"}, "transform": [{"filter": "datum.c == 'd'"}], "mark": {"type": "area"}, "encoding": {"x": {"field": "m", "type": "quantitative"}, "y": {"field": "t", "type": "quantitative"}, "y2": {"datum": 0.43}, "color": {"datum": "d", "type": "nominal"}}},
{"data": {"name": "ins"}, "transform": [{"filter": "datum.c == 'a'"}], "mark": {"type": "area"}, "encoding": {"x": {"field": "m", "type": "quantitative"}, "y": {"field": "t", "type": "quantitative"}, "y2": {"datum": 0.43}, "color": {"datum": "a", "type": "nominal"}}},
{"data": {"name": "ins"}, "transform": [{"filter": "datum.c == 'b'"}], "mark": {"type": "area"}, "encoding": {"x": {"field": "m", "type": "quantitative"}, "y": {"field": "t", "type": "quantitative"}, "y2": {"datum": 0.43}, "color": {"datum": "b", "type": "nominal"}}},
{"data": {"name": "ins"}, "transform": [{"filter": "datum.c == 'o' || datum.c == 'f3'"}], "mark": {"type": "area"}, "encoding": {"x": {"field": "m", "type": "quantitative"}, "y": {"field": "t", "type": "quantitative"}, "y2": {"datum": 0.43}, "color": {"datum": "f3", "type": "nominal"}}},
{"data": {"name": "ins"}, "transform": [{"filter": "datum.c == 'o' || datum.c == 'f2'"}], "mark": {"type": "area"}, "encoding": {"x": {"field": "m", "type": "quantitative"}, "y": {"field": "t", "type": "quantitative"}, "y2": {"datum": 0.43}, "color": {"datum": "f2", "type": "nominal"}}},
{"data": {"name": "ins"}, "transform": [{"filter": "datum.c == 'o' || datum.c == 'f1'"}], "mark": {"type": "area"}, "encoding": {"x": {"field": "m", "type": "quantitative"}, "y": {"field": "t", "type": "quantitative"}, "y2": {"datum": 0.43}, "color": {"datum": "f1", "type": "nominal"}}},
{"data": {"name": "ins"}, "transform": [{"filter": "datum.c == 'o' || datum.c == 'y'"}], "mark": {"type": "area"}, "encoding": {"x": {"field": "m", "type": "quantitative"}, "y": {"field": "t", "type": "quantitative"}, "y2": {"datum": 0.43}, "color": {"datum": "y", "type": "nominal"}}},
{"data": {"name": "ins"}, "transform": [{"filter": "datum.c != 'o'"}], "mark": {"type": "line", "color": "#3d4d5d", "strokeWidth": 0.9}, "encoding": {"x": {"field": "m", "type": "quantitative"}, "y": {"field": "t", "type": "quantitative"}, "detail": {"field": "c", "type": "nominal"}}},
{"data": {"name": "ins"}, "transform": [{"filter": "datum.c == 'o'"}], "mark": {"type": "line", "color": "#111111", "strokeWidth": 3}, "encoding": {"x": {"field": "m", "type": "quantitative"}, "y": {"field": "t", "type": "quantitative"}}},
{"data": {"name": "icep"}, "mark": {"type": "point", "shape": "M0,-1L0,1M-0.87,-0.5L0.87,0.5M-0.87,0.5L0.87,-0.5", "filled": false, "stroke": "#ee22ee", "strokeWidth": 2.2, "size": 90, "opacity": 1}, "encoding": {"x": {"field": "m", "type": "quantitative"}, "y": {"field": "t", "type": "quantitative"}}},
{"data": {"name": "icep"}, "mark": {"type": "text", "align": "left", "baseline": "middle", "dx": 16, "dy": -3, "fontSize": 11, "fontWeight": "bold", "color": "#111"}, "encoding": {"x": {"field": "m", "type": "quantitative"}, "y": {"field": "t", "type": "quantitative"}, "text": {"field": "label"}}},
{"data": {"values": [{}]}, "mark": {"type": "rect", "filled": false, "stroke": "#999999", "strokeWidth": 1}, "encoding": {"x": {"datum": 0, "type": "quantitative"}, "x2": {"datum": 1.4}, "y": {"datum": 0.43, "type": "quantitative"}, "y2": {"datum": 0.66}}}
]
}
],
"resolve": {"scale": {"x": "independent", "y": "independent", "color": "independent"}, "axis": {"x": "independent", "y": "independent"}}
}
